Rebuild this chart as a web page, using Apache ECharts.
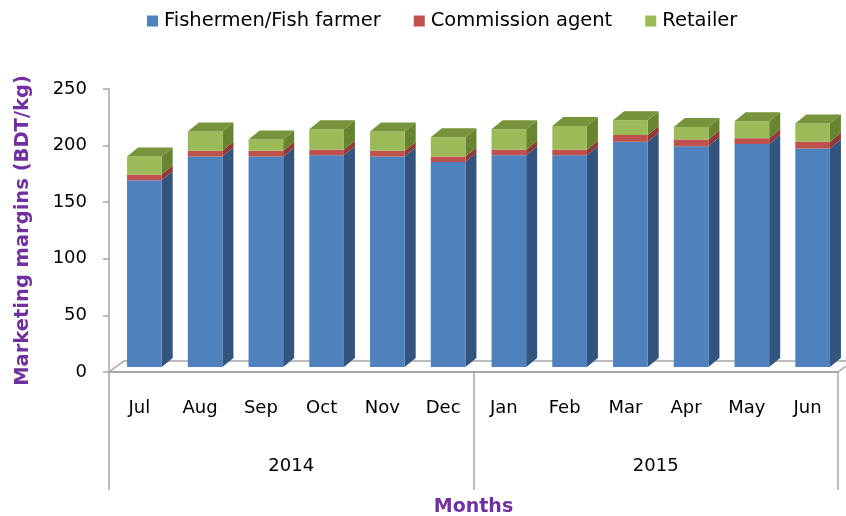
<!DOCTYPE html>
<html>
<head>
<meta charset="utf-8">
<script src="https://cdn.jsdelivr.net/npm/echarts@6/dist/echarts.min.js"></script>
<style>
  html, body { margin: 0; padding: 0; background: #fff; }
  #chart { width: 846px; height: 516px; }
</style>
</head>
<body>
<div id="chart"></div>
<script>
// Monthly marketing margins (BDT/kg), July 2014 – June 2015
const months = ['Jul', 'Aug', 'Sep', 'Oct', 'Nov', 'Dec', 'Jan', 'Feb', 'Mar', 'Apr', 'May', 'Jun'];
const years = ['2014', '2015'];
const fisherman = [165, 186, 186, 187, 186, 181, 187, 187, 199, 195, 197, 193];
const agent     = [5, 5, 5, 5, 5, 5, 5, 5, 6, 6, 5, 6];
const retailer  = [16, 17, 10, 18, 17, 17, 18, 21, 13, 11, 15, 16];
const yTicks = [0, 50, 100, 150, 200, 250];

const FONT = 'DejaVu Sans';
const PURPLE = '#7030A0';
const FRAME = '#A6A6A6';

// plot area of the front plane
const GRID = { left: 109, top: 89, right: 8, bottom: 144 };
const W = 846, H = 516;

// pseudo-3D column geometry
const SHIFT_X = 5, SHIFT_Y = 5;   // front face sits slightly behind the floor edge
const DX = 11, DY = 9;            // column depth
const FLOOR_DX = 15, FLOOR_DY = 11;

// [categoryIndex, base, top] rows for each stacked layer
function layer(values, below) {
  return values.map((v, i) => {
    const base = below.reduce((s, arr) => s + arr[i], 0);
    return [i, base, base + v];
  });
}

function segmentRenderer(front, side, top) {
  return function (params, api) {
    const i = api.value(0);
    const lo = api.coord([i, api.value(1)]);
    const hi = api.coord([i, api.value(2)]);
    const band = api.size([1, 0])[0];
    const w = band * 0.57;
    const x0 = lo[0] - w / 2 + SHIFT_X;
    const x1 = x0 + w;
    const yb = lo[1] - SHIFT_Y;
    const yt = hi[1] - SHIFT_Y;
    const children = [
      {
        type: 'polygon',
        shape: { points: [[x1, yb], [x1 + DX, yb - DY], [x1 + DX, yt - DY], [x1, yt]] },
        style: { fill: side }
      },
      {
        type: 'rect',
        shape: { x: x0, y: yt, width: w, height: yb - yt },
        style: { fill: front }
      }
    ];
    if (top) {
      children.push({
        type: 'polygon',
        shape: { points: [[x0, yt], [x0 + DX, yt - DY], [x1 + DX, yt - DY], [x1, yt]] },
        style: { fill: top }
      });
    }
    return { type: 'group', children };
  };
}

const chart = echarts.init(document.getElementById('chart'), null, { renderer: 'canvas' });

const floorY = H - GRID.bottom;
const floorL = GRID.left, floorR = W - GRID.right;

chart.setOption({
  animation: false,
  backgroundColor: '#fff',
  textStyle: { fontFamily: FONT },
  legend: {
    top: 6,
    left: 142,
    itemWidth: 11,
    itemHeight: 11,
    itemGap: 33,
    icon: 'rect',
    textStyle: { fontFamily: FONT, fontSize: 19.5, color: '#000', padding: [0, 0, 0, 1] },
    data: ['Fishermen/Fish farmer', 'Commission agent', 'Retailer']
  },
  grid: {
    left: GRID.left, top: GRID.top, right: GRID.right, bottom: GRID.bottom,
    containLabel: false,
    outerBoundsMode: 'none'
  },
  xAxis: [
    {
      type: 'category',
      data: months,
      position: 'bottom',
      offset: 0,
      axisLine: { show: true, lineStyle: { color: FRAME, width: 2 } },
      axisTick: { show: false },
      axisLabel: { margin: 27, fontFamily: FONT, fontSize: 18, color: '#000' },
      name: 'Months',
      nameLocation: 'middle',
      nameGap: 126,
      nameTextStyle: { fontFamily: FONT, fontSize: 19, fontWeight: 'bold', color: PURPLE }
    },
    {
      type: 'category',
      data: years,
      position: 'bottom',
      offset: 0,
      axisLine: { show: false },
      axisTick: { show: true, length: 118, lineStyle: { color: FRAME, width: 1.5 } },
      axisLabel: { margin: 85, fontFamily: FONT, fontSize: 18, color: '#000' }
    }
  ],
  yAxis: {
    type: 'value',
    min: yTicks[0],
    max: yTicks[yTicks.length - 1],
    interval: 50,
    axisLine: { show: true, lineStyle: { color: FRAME, width: 1.5 } },
    axisTick: { show: true, length: 6, lineStyle: { color: FRAME, width: 1.5 } },
    splitLine: { show: false },
    axisLabel: { margin: 22, fontFamily: FONT, fontSize: 18, color: '#000' },
    name: 'Marketing margins (BDT/kg)',
    nameLocation: 'middle',
    nameGap: 76,
    nameTextStyle: { fontFamily: FONT, fontSize: 19.5, fontWeight: 'bold', color: PURPLE }
  },
  graphic: [
    {
      type: 'polygon',
      z: 0,
      shape: {
        points: [
          [floorL, floorY],
          [floorR, floorY],
          [floorR + FLOOR_DX, floorY - FLOOR_DY],
          [floorL + FLOOR_DX, floorY - FLOOR_DY]
        ]
      },
      style: { fill: '#fff', stroke: FRAME, lineWidth: 1.5 }
    }
  ],
  series: [
    {
      name: 'Fishermen/Fish farmer',
      type: 'custom',
      itemStyle: { color: '#4F81BD' },
      renderItem: segmentRenderer('#4F81BD', '#33547F', null),
      encode: { x: 0, y: [1, 2] },
      data: layer(fisherman, []),
      z: 3
    },
    {
      name: 'Commission agent',
      type: 'custom',
      itemStyle: { color: '#C0504D' },
      renderItem: segmentRenderer('#C0504D', '#8F3A37', null),
      encode: { x: 0, y: [1, 2] },
      data: layer(agent, [fisherman]),
      z: 3
    },
    {
      name: 'Retailer',
      type: 'custom',
      itemStyle: { color: '#9BBB59' },
      renderItem: segmentRenderer('#9BBB59', '#67852F', '#77933C'),
      encode: { x: 0, y: [1, 2] },
      data: layer(retailer, [fisherman, agent]),
      z: 3
    }
  ]
});
</script>
</body>
</html>
